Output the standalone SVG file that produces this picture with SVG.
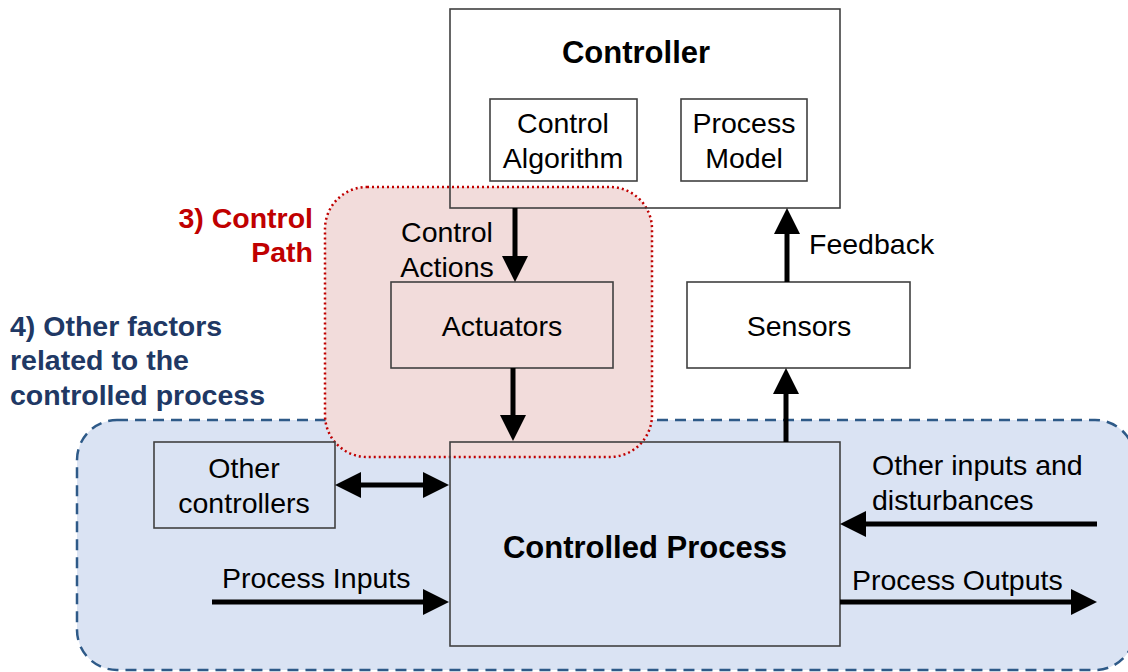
<svg xmlns="http://www.w3.org/2000/svg" width="1128" height="672" viewBox="0 0 1128 672">
<style>
text{font-family:"Liberation Sans",Arial,sans-serif;fill:#000}
.r{font-size:28.5px}
.b{font-size:31px;font-weight:bold}
.box{fill:none;stroke:#404040;stroke-width:1.6}
.ar{stroke:#000;stroke-width:5;fill:none}
.lab{font-size:28.5px;font-weight:bold}
</style>
<defs>
<marker id="ah" markerUnits="userSpaceOnUse" markerWidth="26" markerHeight="26" viewBox="0 0 26 26" refX="2" refY="13" orient="auto-start-reverse">
<path d="M0,0 L26,13 L0,26 z" fill="#000"/>
</marker>
</defs>
<rect width="1128" height="672" fill="#fff"/>
<g id="region-other-factors">
<rect x="77" y="420" width="1058" height="250" rx="40" fill="#dae3f3" stroke="#2e5a88" stroke-width="2.5" stroke-dasharray="11,7"/>
</g>
<g id="region-control-path">
<rect x="325" y="187" width="327" height="270" rx="42" fill="#f2dcdb" stroke="#c00000" stroke-width="2.5" stroke-dasharray="2,3"/>
</g>
<g id="label-control-path">
<text class="lab" x="313" y="228" text-anchor="end" style="fill:#c00000">3) Control</text>
<text class="lab" x="313" y="262" text-anchor="end" style="fill:#c00000">Path</text>
</g>
<g id="label-other-factors">
<text class="lab" x="10" y="336" style="fill:#203864">4) Other factors</text>
<text class="lab" x="10" y="370" style="fill:#203864">related to the</text>
<text class="lab" x="10" y="405" style="fill:#203864">controlled process</text>
</g>
<g id="controller">
<rect class="box" x="450" y="9" width="390" height="199"/>
<text class="b" x="636" y="63" text-anchor="middle">Controller</text>
</g>
<g id="control-algorithm">
<rect class="box" x="490" y="99" width="147" height="82"/>
<text class="r" x="563" y="133" text-anchor="middle">Control</text>
<text class="r" x="563" y="168" text-anchor="middle">Algorithm</text>
</g>
<g id="process-model">
<rect class="box" x="681" y="99" width="126" height="82"/>
<text class="r" x="744" y="133" text-anchor="middle">Process</text>
<text class="r" x="744" y="168" text-anchor="middle">Model</text>
</g>
<g id="actuators">
<rect class="box" x="391" y="282" width="222" height="86"/>
<text class="r" x="502" y="336" text-anchor="middle">Actuators</text>
</g>
<g id="sensors">
<rect class="box" x="687" y="282" width="223" height="86"/>
<text class="r" x="799" y="336" text-anchor="middle">Sensors</text>
</g>
<g id="other-controllers">
<rect class="box" x="154" y="442" width="181" height="86"/>
<text class="r" x="244" y="478" text-anchor="middle">Other</text>
<text class="r" x="244" y="513" text-anchor="middle">controllers</text>
</g>
<g id="controlled-process">
<rect class="box" x="450" y="442" width="390" height="204"/>
<text class="b" x="645" y="558" text-anchor="middle">Controlled Process</text>
</g>
<g id="connectors">
<line class="ar" x1="515" y1="208" x2="515" y2="258" marker-end="url(#ah)"/>
<line class="ar" x1="513" y1="368" x2="513" y2="417" marker-end="url(#ah)"/>
<line class="ar" x1="786" y1="442" x2="786" y2="392" marker-end="url(#ah)"/>
<line class="ar" x1="787" y1="282" x2="787" y2="232" marker-end="url(#ah)"/>
<line class="ar" x1="359" y1="485" x2="425" y2="485" marker-start="url(#ah)" marker-end="url(#ah)"/>
<line class="ar" x1="212" y1="602" x2="425" y2="602" marker-end="url(#ah)"/>
<line class="ar" x1="1097" y1="524" x2="864" y2="524" marker-end="url(#ah)"/>
<line class="ar" x1="840" y1="602" x2="1073" y2="602" marker-end="url(#ah)"/>
<text class="r" x="447" y="242" text-anchor="middle">Control</text>
<text class="r" x="447" y="277" text-anchor="middle">Actions</text>
<text class="r" x="809" y="254">Feedback</text>
<text class="r" x="872" y="475">Other inputs and</text>
<text class="r" x="872" y="510">disturbances</text>
<text class="r" x="222" y="588">Process Inputs</text>
<text class="r" x="852" y="590">Process Outputs</text>
</g>
</svg>
